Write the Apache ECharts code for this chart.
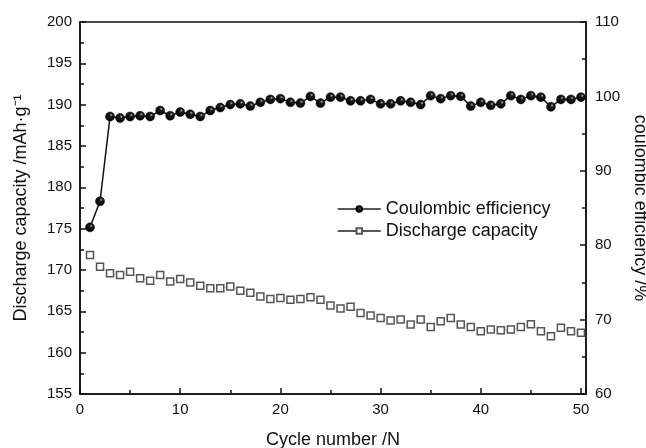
<!DOCTYPE html>
<html>
<head>
<meta charset="utf-8">
<script src="https://cdn.jsdelivr.net/npm/echarts@6/dist/echarts.min.js"></script>
<style>
  html, body { margin: 0; padding: 0; background: #fff; }
  #main { width: 646px; height: 448px; }
</style>
</head>
<body>
<div id="main"></div>
<script>
// cycle numbers 1..50
var cycles = [1,2,3,4,5,6,7,8,9,10,11,12,13,14,15,16,17,18,19,20,21,22,23,24,25,
              26,27,28,29,30,31,32,33,34,35,36,37,38,39,40,41,42,43,44,45,46,47,48,49,50];

// coulombic efficiency, % (right axis)
var efficiency = [82.4,85.9,97.3,97.1,97.3,97.4,97.3,98.1,97.4,97.9,97.6,97.3,98.1,98.5,98.9,
                  99.0,98.7,99.2,99.6,99.7,99.2,99.1,100.0,99.1,99.9,99.9,99.4,99.4,99.6,99.0,
                  99.0,99.4,99.2,98.9,100.1,99.7,100.1,100.0,98.7,99.2,98.8,99.0,100.1,99.6,100.1,
                  99.9,98.6,99.6,99.6,99.9];

// discharge capacity, mAh/g (left axis)
var capacity = [171.8,170.4,169.6,169.4,169.8,169.0,168.7,169.4,168.6,168.9,168.5,168.1,167.8,167.8,168.0,
                167.5,167.25,166.8,166.5,166.6,166.4,166.5,166.7,166.4,165.7,165.35,165.55,164.8,164.5,164.2,
                163.9,164.0,163.4,164.0,163.1,163.8,164.2,163.4,163.1,162.6,162.8,162.7,162.8,163.1,163.45,
                162.6,162.0,163.0,162.6,162.4];

function pairs(xs, ys) {
    return xs.map(function (x, i) { return [x, ys[i]]; });
}

var font = 'Liberation Sans, Arial, sans-serif';
var ink = '#111';

var myChart = echarts.init(document.getElementById('main'));

var ball = new echarts.graphic.RadialGradient(0.62, 0.35, 0.65, [
    {offset: 0, color: '#bdbdbd'},
    {offset: 0.25, color: '#1c1c1c'},
    {offset: 1, color: '#000'}
]);

myChart.setOption({
    backgroundColor: '#fff',
    animation: false,
    grid: {
        left: 80,
        right: 60,
        top: 22,
        bottom: 54,
        outerBoundsMode: 'none',
        containLabel: false,
        show: true,
        borderColor: ink,
        borderWidth: 1.5,
        backgroundColor: 'transparent'
    },
    legend: {
        orient: 'vertical',
        left: 332,
        top: 195,
        itemWidth: 43,
        itemHeight: 7,
        itemGap: 4,
        lineStyle: {color: '#222', width: 1.5},
        textStyle: {fontFamily: font, fontSize: 18, color: ink},
        data: ['Coulombic efficiency', 'Discharge capacity']
    },
    xAxis: {
        type: 'value',
        min: 0,
        max: 50.5,
        interval: 10,
        name: 'Cycle number /N',
        nameLocation: 'middle',
        nameGap: 37,
        nameTextStyle: {fontFamily: font, fontSize: 18, color: ink},
        axisLine: {lineStyle: {color: ink, width: 1.5}},
        axisTick: {inside: true, length: 6, lineStyle: {color: ink, width: 1.5}},
        minorTick: {show: true, splitNumber: 2, length: 4, lineStyle: {color: ink, width: 1.5}},
        axisLabel: {
            fontFamily: font, fontSize: 15, color: ink, margin: 8,
            showMaxLabel: false
        },
        splitLine: {show: false}
    },
    yAxis: [{
        type: 'value',
        min: 155,
        max: 200,
        interval: 5,
        name: 'Discharge capacity /mAh·g⁻¹',
        nameLocation: 'middle',
        nameGap: 50,
        nameTextStyle: {fontFamily: font, fontSize: 18, color: ink},
        axisLine: {show: true, lineStyle: {color: ink, width: 1.5}},
        axisTick: {inside: true, length: 6, lineStyle: {color: ink, width: 1.5}},
        minorTick: {show: true, splitNumber: 2, length: 4, lineStyle: {color: ink, width: 1.5}},
        axisLabel: {fontFamily: font, fontSize: 15, color: ink, margin: 8},
        splitLine: {show: false}
    }, {
        type: 'value',
        position: 'right',
        min: 60,
        max: 110,
        interval: 10,
        name: 'coulombic efficiency /%',
        nameLocation: 'middle',
        nameGap: 37,
        nameRotate: -90,
        nameTextStyle: {fontFamily: font, fontSize: 18, color: ink},
        axisLine: {show: true, lineStyle: {color: ink, width: 1.5}},
        axisTick: {inside: true, length: 6, lineStyle: {color: ink, width: 1.5}},
        minorTick: {show: true, splitNumber: 2, length: 4, lineStyle: {color: ink, width: 1.5}},
        axisLabel: {fontFamily: font, fontSize: 15, color: ink, margin: 9},
        splitLine: {show: false}
    }],
    series: [{
        name: 'Discharge capacity',
        type: 'line',
        yAxisIndex: 0,
        data: pairs(cycles, capacity),
        symbol: 'rect',
        symbolSize: 7,
        showAllSymbol: true,
        itemStyle: {color: '#fff', borderColor: '#555', borderWidth: 1.5},
        lineStyle: {color: '#d4d4d4', width: 1},
        z: 2
    }, {
        name: 'Coulombic efficiency',
        type: 'line',
        yAxisIndex: 1,
        data: pairs(cycles, efficiency),
        symbol: 'circle',
        symbolSize: 9,
        showAllSymbol: true,
        itemStyle: {color: ball, borderColor: '#000', borderWidth: 0.5},
        lineStyle: {color: '#111', width: 1.5},
        z: 3
    }]
});
</script>
</body>
</html>
